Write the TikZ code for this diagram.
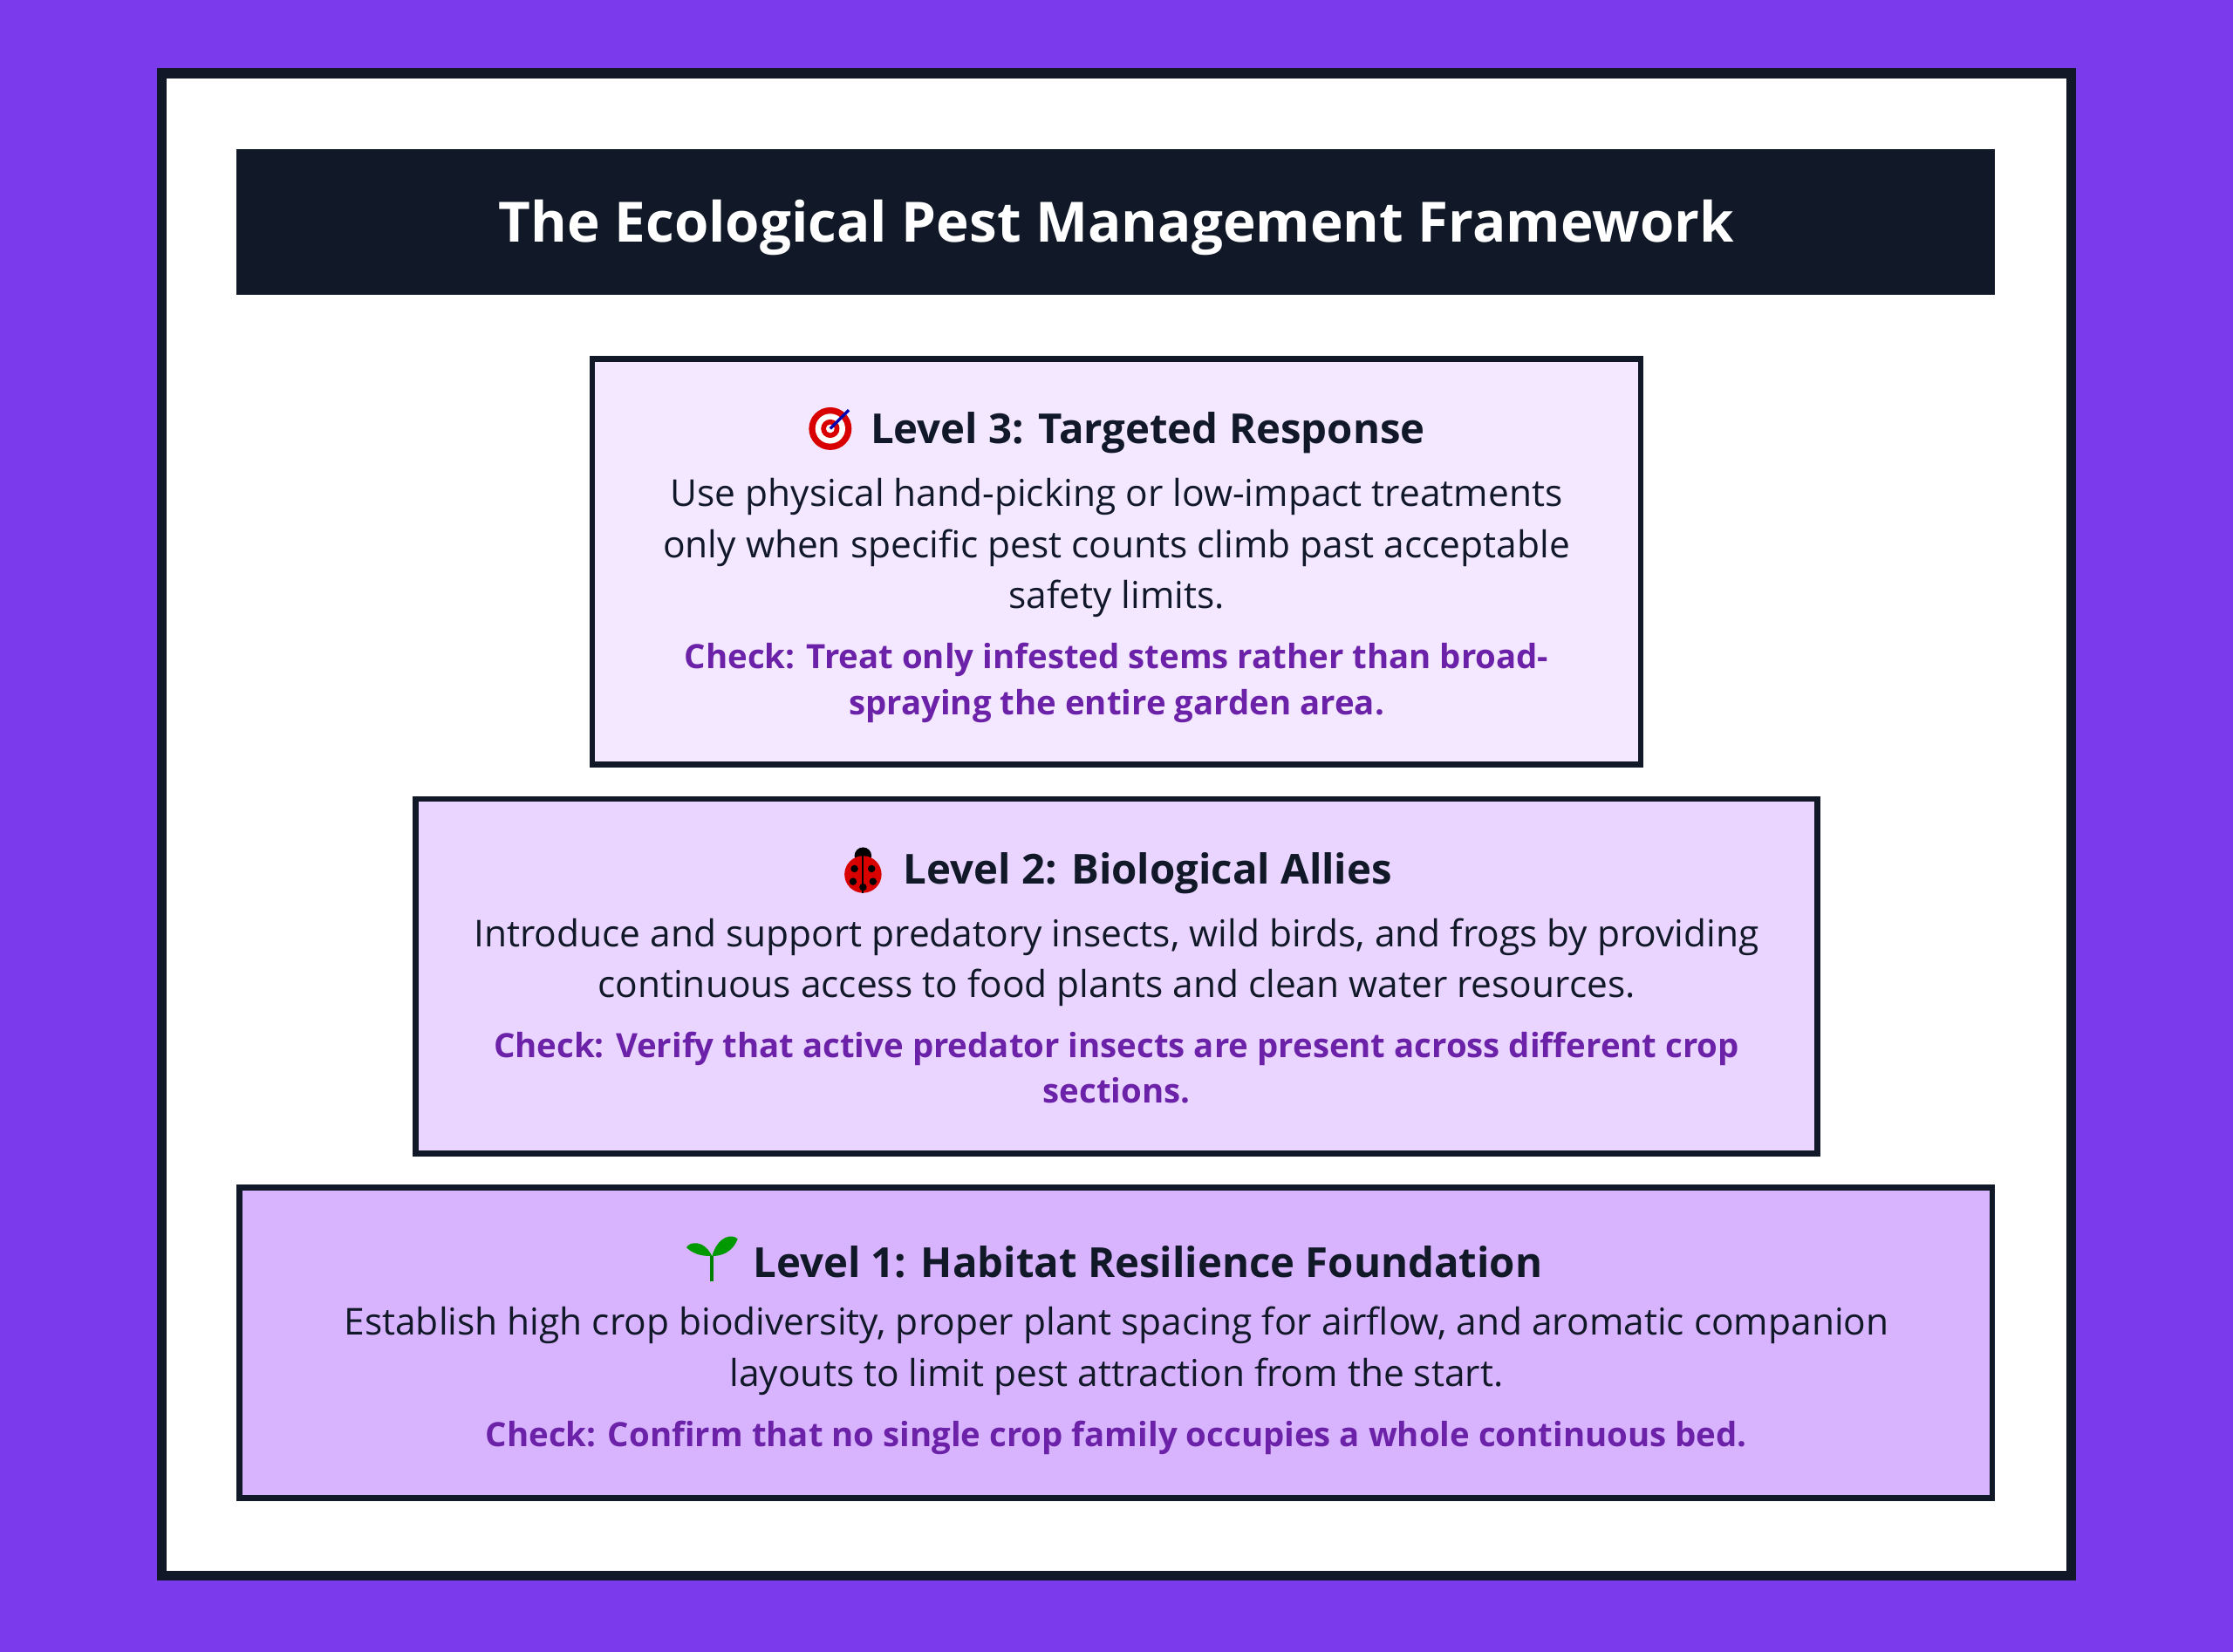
\documentclass[tikz,border=0pt]{standalone}
\usepackage{fontspec}
\setmainfont{Open Sans}
\definecolor{bgp}{HTML}{7C3AED}
\definecolor{ink}{HTML}{111827}
\definecolor{l3}{HTML}{F3E8FF}
\definecolor{l2}{HTML}{E9D5FF}
\definecolor{l1}{HTML}{D8B4FE}
\definecolor{chk}{HTML}{6B21A8}
\begin{document}
\begin{tikzpicture}[x=1pt,y=-1pt,
  lvl/.style={draw=ink,line width=4pt},
  head/.style={font=\fontsize{29}{34}\selectfont\bfseries,text=ink,anchor=center,inner sep=0},
  body/.style={font=\fontsize{26}{36}\selectfont,text=ink,align=center,anchor=north,inner sep=0},
  chkt/.style={font=\fontsize{23.5}{32}\selectfont\bfseries,text=chk,align=center,anchor=north,inner sep=0}]
\fill[bgp] (0,0) rectangle (1568,1160);
\useasboundingbox (0,0) rectangle (1568,1160);
\filldraw[fill=white,draw=ink,line width=7pt] (113.5,51.5) rectangle (1454.5,1106.5);
\fill[ink] (166,105) rectangle (1401,207);
\node[font=\fontsize{39}{44}\selectfont\bfseries,text=white] (title) at (784,160) {The Ecological Pest Management Framework};
% Level 3
\filldraw[lvl,fill=l3] (416,252) rectangle (1152,537);
\node[head] (h3) at (806,304) {Level 3: Targeted Response};
\begin{scope}[shift={(583,301)}]
\fill[red!85!black] (0,0) circle (15);\fill[white] (0,0) circle (10.5);\fill[red!85!black] (0,0) circle (6.5);\fill[white] (0,0) circle (3);
\draw[blue!70!black,line width=2pt] (0,0) -- (13,-13);
\end{scope}
\node[body] (b3) at (784,335.5) {Use physical hand-picking or low-impact treatments\\only when specific pest counts climb past acceptable\\safety limits.};
\node[chkt] (c3) at (784,451.5) {Check: Treat only infested stems rather than broad-\\spraying the entire garden area.};
% Level 2
\filldraw[lvl,fill=l2] (292,561) rectangle (1276,810);
\node[head] (h2) at (806,613) {Level 2: Biological Allies};
\begin{scope}[shift={(606,612)}]
\fill[black] (0,-11) circle (6);
\fill[red!85!black] (0,2) circle (13);
\draw[black,line width=1.2pt] (0,-11) -- (0,15);
\foreach \p in {(-6,-2),(6,-2),(-7,7),(7,7),(0,11)} \fill[black] \p circle (2.6);
\end{scope}
\node[body] (b2) at (784,644.5) {Introduce and support predatory insects, wild birds, and frogs by providing\\continuous access to food plants and clean water resources.};
\node[chkt] (c2) at (784,724.5) {Check: Verify that active predator insects are present across different crop\\sections.};
% Level 1
\filldraw[lvl,fill=l1] (168,834) rectangle (1399,1052);
\node[head] (h1) at (806,886) {Level 1: Habitat Resilience Foundation};
\begin{scope}[shift={(500,884)}]
\draw[green!50!black,line width=2.5pt] (0,16) -- (0,-2);
\fill[green!60!black] (0,-2) .. controls (-6,-14) and (-16,-12) .. (-18,-8) .. controls (-12,-2) and (-4,-2) .. (0,-2);
\fill[green!60!black] (0,-2) .. controls (4,-16) and (14,-18) .. (18,-14) .. controls (14,-4) and (6,-2) .. (0,-2);
\end{scope}
\node[body] (b1) at (784,917.5) {Establish high crop biodiversity, proper plant spacing for airflow, and aromatic companion\\layouts to limit pest attraction from the start.};
\node[chkt] (c1) at (784,997.5) {Check: Confirm that no single crop family occupies a whole continuous bed.};
\end{tikzpicture}
\end{document}
